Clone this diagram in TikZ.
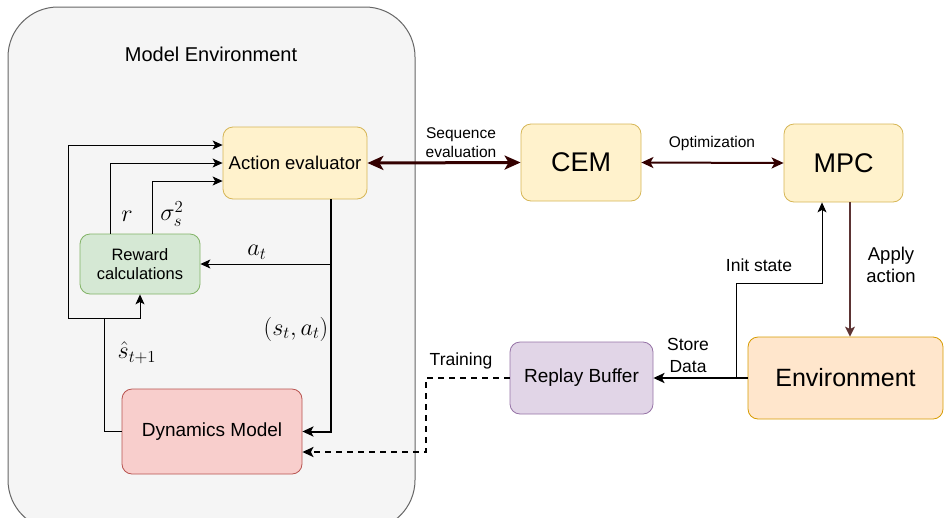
\documentclass[tikz,border=0pt]{standalone}
\usepackage{fontspec}
\setmainfont{Liberation Sans}
\usetikzlibrary{arrows.meta}
\definecolor{mefill}{HTML}{F5F5F5}
\definecolor{medraw}{HTML}{666666}
\definecolor{yfill}{HTML}{FFF2CC}
\definecolor{ydraw}{HTML}{D6B656}
\definecolor{gfill}{HTML}{D5E8D4}
\definecolor{gdraw}{HTML}{82B366}
\definecolor{rfill}{HTML}{F8CECC}
\definecolor{rdraw}{HTML}{B85450}
\definecolor{ofill}{HTML}{FFE6CC}
\definecolor{odraw}{HTML}{D79B00}
\definecolor{pfill}{HTML}{E1D5E7}
\definecolor{pdraw}{HTML}{9673A6}
\definecolor{dred}{HTML}{330000}
\newcommand{\mymathlbl}[1]{\scalebox{1.4}{\fontsize{17.28}{20}\selectfont$#1$}}
\begin{document}
\begin{tikzpicture}[x=1pt,y=-1pt,
  base/.style={rounded corners=10pt, line width=0.8pt, inner sep=0pt, align=center, text=black},
  yel/.style={base, fill=yfill, draw=ydraw},
  grn/.style={base, fill=gfill, draw=gdraw},
  red/.style={base, fill=rfill, draw=rdraw},
  org/.style={base, fill=ofill, draw=odraw},
  pur/.style={base, fill=pfill, draw=pdraw},
  lab/.style={inner sep=0pt, align=center, text=black},
  mlab/.style={inner sep=0pt},
  arr/.style={-{Stealth[length=10pt,width=9pt,inset=2.5pt]}, line width=1pt},
  tharr/.style={-{Stealth[length=11pt,width=10pt,inset=2.5pt]}, line width=2pt},
  seqarr/.style={{Stealth[length=16pt,width=14pt,inset=4pt]}-{Stealth[length=16pt,width=14pt,inset=4pt]}, line width=3pt, draw=dred},
  optarr/.style={{Stealth[length=12pt,width=11pt,inset=3pt]}-{Stealth[length=12pt,width=11pt,inset=3pt]}, line width=2pt, draw=dred},
  apparr/.style={-{Stealth[length=10pt,width=10pt,inset=2.5pt]}, line width=1.3pt, draw=dred!80!white},
]
\useasboundingbox (0,0) rectangle (944,517);
% model environment container
\draw[fill=mefill, draw=medraw, line width=1pt, rounded corners=50pt] (8,7) rectangle (415,530);
\node[lab, font=\fontsize{20}{24}\selectfont] (me) at (211,54) {Model Environment};

% nodes
\node[yel, minimum width=144pt, minimum height=72pt, font=\fontsize{18.5}{22}\selectfont] (ae) at (295,163) {Action evaluator};
\node[grn, minimum width=120pt, minimum height=60pt, font=\fontsize{16.5}{19}\selectfont] (rc) at (140,264) {Reward\\calculations};
\node[red, minimum width=180pt, minimum height=85pt, font=\fontsize{19}{22}\selectfont] (dm) at (212,431.5) {Dynamics Model};
\node[yel, minimum width=120pt, minimum height=77pt, font=\fontsize{27}{30}\selectfont] (cem) at (581,162.5) {CEM};
\node[yel, minimum width=119pt, minimum height=78pt, font=\fontsize{27}{30}\selectfont] (mpc) at (843.5,163) {MPC};
\node[org, minimum width=195pt, minimum height=82pt, font=\fontsize{25}{28}\selectfont] (env) at (845.5,378) {Environment};
\node[pur, minimum width=143pt, minimum height=72pt, font=\fontsize{19}{22}\selectfont] (rb) at (581.5,378) {Replay Buffer};

% connectors inside model environment
\draw[tharr] ([xshift=36pt]ae.south) |- (dm.east);
\draw[arr] ([xshift=36pt]ae.south |- rc.east) -- (rc.east);
\draw[arr] ([xshift=-30pt]rc.north) |- (ae.west);
\draw[arr] ([xshift=12pt]rc.north) |- ([yshift=-18pt]ae.west);
\coordinate (j) at (104,318);
\coordinate (k) at (68,318);
\draw[arr] (dm.west) -| (j) -| (rc.south);
\draw[arr] (j) -- (k) |- ([yshift=18pt]ae.west);

% math labels
\node[mlab] (lr) at (127,216) {\mymathlbl{r}};
\node[mlab] (ls) at (172,214) {\mymathlbl{\sigma_s^2}};
\node[mlab] (la) at (257,252) {\mymathlbl{a_t}};
\node[mlab] (lsa) at (296,329) {\mymathlbl{(s_t,a_t)}};
\node[mlab] (lsh) at (137,353) {\mymathlbl{\hat{s}_{t+1}}};

% right side connectors
\draw[seqarr] (ae.east) -- (cem.west);
\draw[optarr] (cem.east) -- (mpc.west);
\draw[apparr] ([xshift=6.5pt]mpc.south) -- ([xshift=6.5pt]mpc.south |- env.north);
\draw[tharr] (env.west) -- (rb.east);
\draw[arr] ([xshift=-11pt]env.west) -- ++(0,-95) -| ([xshift=-21.5pt]mpc.south);
\coordinate (tr) at (426,452);
\draw[tharr, dashed, dash pattern=on 6pt off 5pt] (rb.west) -| (tr) -- (tr -| dm.east);

% text labels
\node[lab, font=\fontsize{15.5}{19}\selectfont] (lseq) at (461,143) {Sequence\\evaluation};
\node[lab, font=\fontsize{15.5}{19}\selectfont] (lopt) at (712,143) {Optimization};
\node[lab, font=\fontsize{17.5}{21}\selectfont] (linit) at (759,265) {Init state};
\node[lab, font=\fontsize{18.5}{22}\selectfont] (lapp) at (891,265) {Apply\\action};
\node[lab, font=\fontsize{17.5}{22}\selectfont] (lst) at (688,355) {Store\\Data};
\node[lab, font=\fontsize{17.5}{21}\selectfont] (ltr) at (461,361) {Training};
\end{tikzpicture}
\end{document}
